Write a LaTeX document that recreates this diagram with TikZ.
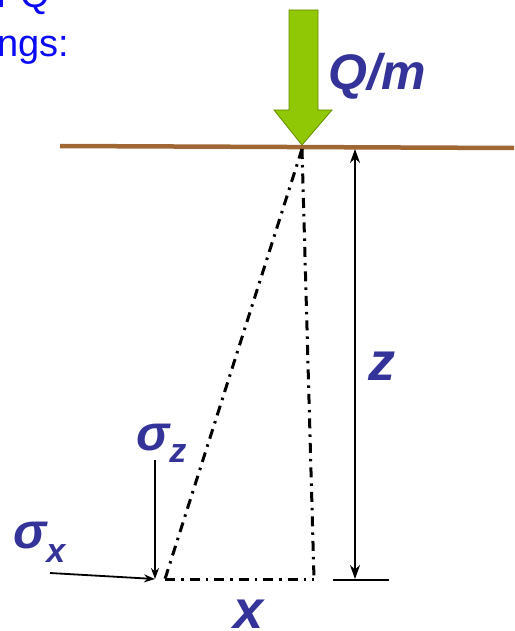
\documentclass[tikz,border=0pt]{standalone}
\usepackage{fontspec}
\setmainfont{Liberation Sans}
\usetikzlibrary{arrows.meta}
\definecolor{lblue}{RGB}{51,51,153}
\definecolor{tblue}{RGB}{10,10,245}
\definecolor{ground}{RGB}{160,102,52}
\definecolor{loadgreen}{RGB}{145,200,5}
\definecolor{loadedge}{RGB}{100,140,0}
\tikzset{
  lbl/.style={text=lblue,font=\bfseries\itshape,inner sep=0pt},
  dd/.style={line width=3pt,dash pattern=on 10pt off 6pt on 2.5pt off 6pt},
  sarrow/.style={line width=1.8pt,-{Stealth[length=11pt,width=8pt]}},
}
\begin{document}
\begin{tikzpicture}[x=1pt,y=-1pt]
\useasboundingbox (0,0) rectangle (514,631);
\clip (0,0) rectangle (514,631);
% top-left cut text
\node[anchor=base west,inner sep=0pt,text=tblue,font=\fontsize{38}{42}\selectfont] (t1) at (-3,8) {r Q};
\node[anchor=base west,inner sep=0pt,text=tblue,font=\fontsize{38}{42}\selectfont] (t2) at (-3,57) {ngs:};
% ground
\coordinate (gl) at (60,146);
\coordinate (gr) at (514,148);
\draw[ground,line width=4.5pt] (gl) -- (gr);
% load arrow
\filldraw[fill=loadgreen,draw=loadedge,line width=0.8pt]
  (289,10) -- (318,10) -- (318,110) -- (332,110) -- (302,145) -- (274,110) -- (289,110) -- cycle;
\coordinate (tip) at (302,149);
\node[lbl,anchor=base west,font=\bfseries\itshape\fontsize{50}{54}\selectfont] (qm) at (328,90) {Q/m};
% dash-dot lines
\coordinate (pt) at (165,579);
\coordinate (foot) at (314,579);
\draw[dd] (tip) -- (pt);
\draw[dd] (tip) -- (foot);
\draw[dd] (pt) -- (foot);
% z dimension
\coordinate (zt) at (355,149);
\coordinate (zb) at (355,579);
\coordinate (tl) at (333,580);
\coordinate (tr) at (389,580);
\draw[line width=1.8pt,{Stealth[length=14pt,width=10pt]}-{Stealth[length=14pt,width=10pt]}] (zt) -- (zb);
\draw[line width=1.5pt] (tl) -- (tr);
\node[lbl,anchor=base west,font=\bfseries\itshape\fontsize{54}{58}\selectfont] (zl) at (368,380) {z};
\node[lbl,anchor=base,font=\bfseries\itshape\fontsize{54}{58}\selectfont] (xl) at (249,628) {x};
% sigma z
\node[lbl,anchor=base west,font=\bfseries\itshape\fontsize{50}{54}\selectfont] (sz) at (136,450) {σ\raisebox{-12pt}{\fontsize{34}{36}\selectfont z}};
\coordinate (szs) at (155,460);
\coordinate (ptl) at (155,579);
\draw[sarrow] (szs) -- (ptl);
% sigma x
\node[lbl,anchor=base west,font=\bfseries\itshape\fontsize{50}{54}\selectfont] (sx) at (13,548) {σ\raisebox{-14pt}{\fontsize{34}{36}\selectfont x}};
\coordinate (sxs) at (50,573);
\draw[sarrow] (sxs) -- (ptl);
\end{tikzpicture}
\end{document}
